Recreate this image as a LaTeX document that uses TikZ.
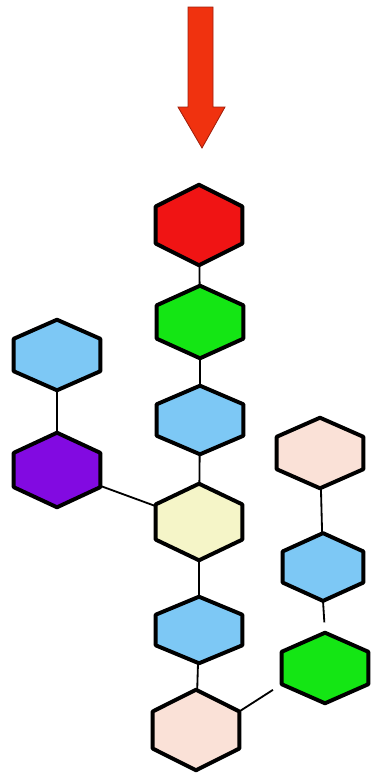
\documentclass[tikz,border=0pt]{standalone}
\usetikzlibrary{calc,backgrounds}
\definecolor{hexred}{RGB}{240,20,20}
\definecolor{hexgreen}{RGB}{20,230,20}
\definecolor{hexblue}{RGB}{125,200,245}
\definecolor{hexpurple}{RGB}{130,10,225}
\definecolor{hexyellow}{RGB}{245,245,200}
\definecolor{hexpink}{RGB}{250,225,215}
\definecolor{arrowred}{RGB}{240,50,15}
\definecolor{arrowedge}{RGB}{160,30,10}
\tikzset{
  hexline/.style={draw=black, line width=2.8pt, line join=round},
  hexa/.style={rectangle, inner sep=0pt, minimum width=2.15cm,
               minimum height=1.8cm,
               append after command={\pgfextra{
                 \draw[hexline, fill=#1] (\tikzlastnode.north)
                   -- ($(\tikzlastnode.north east)!0.27!(\tikzlastnode.south east)$)
                   -- ($(\tikzlastnode.north east)!0.73!(\tikzlastnode.south east)$)
                   -- (\tikzlastnode.south)
                   -- ($(\tikzlastnode.north west)!0.73!(\tikzlastnode.south west)$)
                   -- ($(\tikzlastnode.north west)!0.27!(\tikzlastnode.south west)$)
                   -- cycle;}}},
  link/.style={draw=black, line width=1.3pt},
  stub/.style={link, shorten >=0.26cm}
}
\begin{document}
\begin{tikzpicture}[x=0.025cm, y=-0.025cm]
  \useasboundingbox (0,0) rectangle (370,776);
  % incoming arrow
  \filldraw[fill=arrowred, draw=arrowedge, line width=0.6pt]
    (188,7) -- (213,7) -- (213,107) -- (225,107) -- (202,148)
    -- (178,107) -- (188,107) -- cycle;
  % main chain
  \node[hexa=hexred, minimum height=2cm] (top) at (199,225) {};
  \node[hexa=hexgreen] (g1) at (200,322) {};
  \node[hexa=hexblue, minimum height=1.7cm] (b1) at (200,420) {};
  \node[hexa=hexyellow, minimum height=1.9cm] (core) at (199,522) {};
  \node[hexa=hexblue, minimum height=1.65cm] (b2) at (199,630) {};
  \node[hexa=hexpink, minimum height=2cm] (p1) at (196,730) {};
  % left branch
  \node[hexa=hexblue, minimum height=1.75cm] (lb) at (57,355) {};
  \node[hexa=hexpurple, minimum height=1.85cm] (lp) at (57,470) {};
  % right branch
  \node[hexa=hexpink, minimum height=1.75cm] (rp) at (320,453) {};
  \node[hexa=hexblue, minimum width=2cm, minimum height=1.68cm] (rb) at (323,567) {};
  \node[hexa=hexgreen, minimum height=1.75cm] (rg) at (325,668) {};
  \begin{scope}[on background layer]
    \draw[link] (top.center) -- (g1.center);
    \draw[link] (g1.center) -- (b1.center);
    \draw[link] (b1.center) -- (core.center);
    \draw[link] (core.center) -- (b2.center);
    \draw[link] (b2.center) -- (p1.center);
    \draw[link] (lb.center) -- (lp.center);
    \draw[link] (lp.center) -- (core.center);
    \draw[link] (rp.center) -- (rb.center);
  \end{scope}
  \draw[stub] (rb.south) -- (rg.north);
  \draw[stub] ($(p1.north east)!0.27!(p1.south east)$)
    -- ($(rg.north west)!0.73!(rg.south west)$);
\end{tikzpicture}
\end{document}
